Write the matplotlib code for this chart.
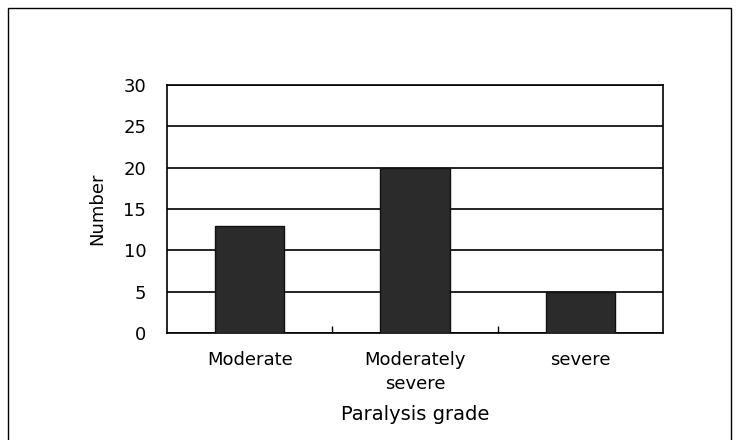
import matplotlib
matplotlib.use("Agg")
import matplotlib.pyplot as plt
from matplotlib.patches import Rectangle

categories = ["Moderate", "Moderately\nsevere", "severe"]
values = [13, 20, 5]
yticks = [0, 5, 10, 15, 20, 25, 30]

plt.rcParams['font.family'] = ['DejaVu Sans']

W, H = 739, 440
fig = plt.figure(figsize=(W/100, H/100), dpi=100)
ax = fig.add_axes([167/W, 1-333/H, (663-167)/W, (333-85)/H])

x = list(range(len(categories)))
ax.bar(x, values, width=0.42, color='#2b2b2b', edgecolor='#111111', zorder=3)
ax.set_xlim(-0.5, 2.5)
ax.set_ylim(0, 30)
ax.set_yticks(yticks)
ax.set_yticklabels([str(v) for v in yticks], fontsize=13)
ax.yaxis.grid(True, color='black', linewidth=1.2, zorder=1)
ax.tick_params(axis='y', length=0, pad=15)
ax.set_xticks(x)
ax.set_xticklabels(categories, fontsize=13, linespacing=1.4, va='top')
ax.tick_params(axis='x', length=0, pad=13)
ax.set_xticks([0.5, 1.5], minor=True)
ax.tick_params(axis='x', which='minor', direction='in', length=5, width=1)
for s in ax.spines.values():
    s.set_linewidth(1.2)
ax.set_xlabel("Paralysis grade", fontsize=14, labelpad=9)
ax.set_ylabel("Number", fontsize=13, labelpad=12)

fig.patches.append(Rectangle((8/W, -0.1), (731-8)/W, 1-8/H+0.1, transform=fig.transFigure,
                             fill=False, edgecolor='black', linewidth=1.0))

fig.savefig("out.png", dpi=100)
